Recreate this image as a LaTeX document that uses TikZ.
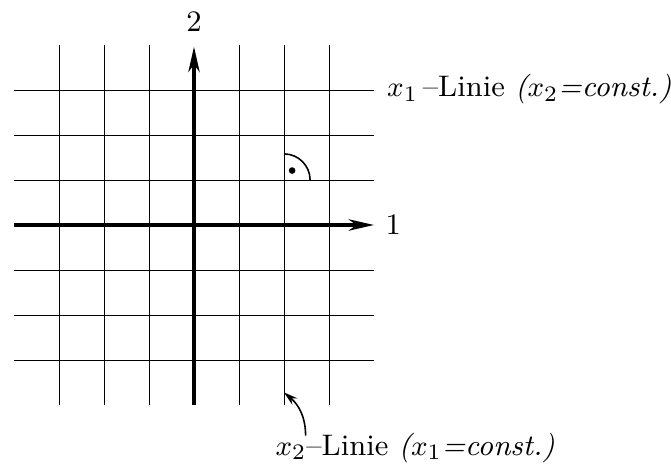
\documentclass[tikz,border=0pt]{standalone}
\usepackage{xcolor}
\usepackage{tikz}
\usetikzlibrary{positioning,arrows.meta}
\tikzset{
  grid-line/.style={line width=0.3pt,draw=black},
  axis-arrow/.style={-{Stealth[length=8pt,width=3.6pt,inset=2.4pt]},line width=1pt},
  note-arrow/.style={-{Stealth[length=4.5pt,width=2.6pt,inset=1.5pt]},line width=0.5pt},
  label-text/.style={inner sep=0pt,font=\fontsize{9.4}{11.3}\selectfont},
}

\begin{document}
\begin{tikzpicture}[x=0.5cm,y=0.5cm]
  \useasboundingbox (-4.311,-5.356) rectangle (10.6,5.0);
  % vertical lines
  \draw[grid-line] (-3,-4) -- (-3,4);
  \draw[grid-line] (-2,-4) -- (-2,4);
  \draw[grid-line] (-1,-4) -- (-1,4);
  \draw[grid-line] (1,-4) -- (1,4);
  \draw[grid-line] (2,-4) -- (2,4);
  \draw[grid-line] (3,-4) -- (3,4);
  % horizontal lines
  \draw[grid-line] (-4,3) -- (4,3);
  \draw[grid-line] (-4,2) -- (4,2);
  \draw[grid-line] (-4,1) -- (4,1);
  \draw[grid-line] (-4,-1) -- (4,-1);
  \draw[grid-line] (-4,-2) -- (4,-2);
  \draw[grid-line] (-4,-3) -- (4,-3);

  % axes
  \coordinate (ax1-start) at (-4,0);
  \coordinate (ax1-end) at (4,0);
  \coordinate (ax2-start) at (0,-4);
  \coordinate (ax2-end) at (0,3.96);
  \draw[axis-arrow] (ax1-start) -- (ax1-end);
  \draw[axis-arrow] (ax2-start) -- (ax2-end);
  \node[label-text,right=3.5pt of ax1-end] (ax1-lbl) {1};
  \node[label-text,above=4.5pt of ax2-end] (ax2-lbl) {2};

  % right angle
  \draw[line width=0.5pt] (2.58,1) arc[start angle=0,end angle=90,radius=0.58];
  \fill (2.18,1.21) circle[radius=0.037cm];

  % labels
  \node[label-text,anchor=mid west] (lbl-x1) at (4.28,3)
    {$x_1$\,--Linie \textit{($x_2$=const.)}};
  \node[label-text,anchor=mid west] (lbl-x2) at (1.8,-4.97)
    {$x_2$--Linie \textit{($x_1$=const.)}};
  \coordinate (x2-tail) at (2.48,-4.68);
  \coordinate (x2-line) at (2,-3.72);
  \draw[note-arrow] (x2-tail) to[out=90,in=-40] (x2-line);
\end{tikzpicture}
\end{document}
